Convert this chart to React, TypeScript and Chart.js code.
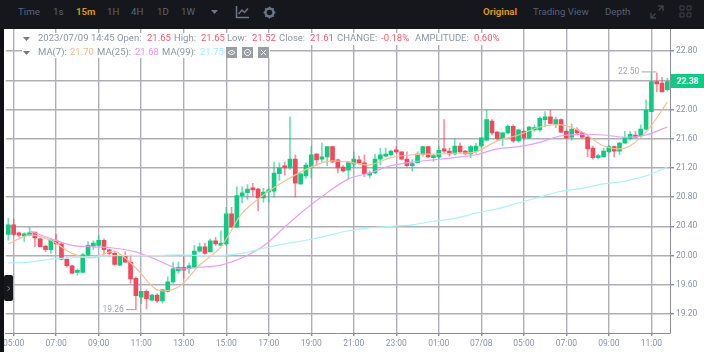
import React, { useEffect, useRef } from "react";
import { Chart, registerables } from "chart.js";

Chart.register(...registerables);

const opens = [20.29,20.42,20.31,20.27,20.28,20.32,20.23,20.13,20.08,20.20,20.16,19.95,19.86,19.77,19.77,20.01,20.13,20.14,20.21,20.08,20.03,19.87,19.99,19.91,19.69,19.43,19.51,19.39,19.46,19.38,19.51,19.64,19.79,19.84,19.82,19.84,20.06,20.12,20.05,20.20,20.14,20.16,20.57,20.39,20.82,20.86,20.91,20.91,20.79,20.87,20.88,21.12,21.21,21.20,21.32,20.98,21.09,21.21,21.39,21.32,21.35,21.49,21.31,21.21,21.17,21.25,21.31,21.27,21.10,21.13,21.32,21.36,21.38,21.43,21.42,21.32,21.23,21.27,21.38,21.49,21.34,21.35,21.46,21.43,21.39,21.50,21.43,21.39,21.43,21.50,21.58,21.84,21.69,21.60,21.68,21.77,21.57,21.70,21.61,21.72,21.72,21.86,21.90,21.80,21.86,21.70,21.62,21.72,21.68,21.62,21.47,21.34,21.35,21.42,21.49,21.43,21.54,21.60,21.65,21.64,21.73,21.97,22.38,22.36,22.27];
const highs = [20.51,20.50,20.32,20.31,20.39,20.32,20.24,20.14,20.24,20.29,20.17,19.97,19.87,19.82,20.03,20.19,20.20,20.27,20.23,20.09,20.05,20.01,20.05,20.01,19.71,19.51,19.53,19.47,19.48,19.54,19.71,19.91,19.91,19.98,19.90,20.14,20.17,20.17,20.23,20.25,20.34,20.66,20.66,20.94,20.94,20.97,20.99,20.92,20.92,20.92,21.28,21.27,21.28,21.90,21.38,21.13,21.27,21.49,21.40,21.54,21.49,21.50,21.32,21.23,21.29,21.42,21.36,21.38,21.16,21.39,21.47,21.47,21.44,21.49,21.42,21.42,21.31,21.42,21.50,21.50,21.39,21.50,21.86,21.47,21.60,21.54,21.44,21.51,21.54,21.61,21.99,21.86,21.70,21.69,21.79,21.79,21.73,21.72,21.77,21.79,21.90,21.97,21.99,21.90,21.87,21.72,21.80,21.75,21.69,21.64,21.50,21.39,21.47,21.51,21.50,21.55,21.70,21.70,21.70,21.79,22.13,22.50,22.50,22.44,22.43];
const lows = [20.21,20.27,20.25,20.19,20.27,20.12,20.12,20.05,20.03,20.16,19.94,19.84,19.75,19.73,19.77,19.99,20.08,20.12,20.02,19.99,19.87,19.86,19.91,19.62,19.26,19.34,19.27,19.38,19.36,19.35,19.50,19.62,19.76,19.69,19.76,19.83,20.05,20.02,20.05,20.14,20.14,20.14,20.39,20.39,20.72,20.77,20.82,20.61,20.73,20.73,20.80,21.03,21.10,21.18,20.80,20.97,21.06,21.06,21.23,21.28,21.23,21.27,21.13,21.14,21.05,21.20,21.25,21.08,21.06,21.12,21.24,21.35,21.36,21.40,21.31,21.21,21.16,21.27,21.36,21.34,21.29,21.32,21.40,21.36,21.38,21.40,21.38,21.34,21.40,21.47,21.57,21.65,21.58,21.50,21.66,21.55,21.55,21.58,21.60,21.70,21.70,21.76,21.81,21.75,21.68,21.60,21.58,21.65,21.61,21.35,21.32,21.32,21.35,21.40,21.35,21.38,21.54,21.58,21.62,21.62,21.72,21.97,22.24,22.24,22.25];
const closes = [20.42,20.29,20.28,20.29,20.31,20.24,20.12,20.08,20.21,20.16,19.95,19.86,19.76,19.79,20.01,20.14,20.17,20.21,20.08,20.03,19.88,19.99,19.91,19.68,19.45,19.51,19.41,19.46,19.38,19.53,19.64,19.82,19.84,19.80,19.86,20.06,20.12,20.03,20.20,20.16,20.17,20.57,20.39,20.82,20.86,20.91,20.90,20.79,20.87,20.90,21.13,21.20,21.20,21.32,20.99,21.12,21.24,21.38,21.31,21.35,21.49,21.28,21.20,21.16,21.28,21.32,21.27,21.12,21.13,21.32,21.38,21.39,21.43,21.42,21.32,21.23,21.24,21.39,21.49,21.35,21.35,21.44,21.43,21.39,21.50,21.42,21.39,21.49,21.50,21.61,21.86,21.68,21.60,21.68,21.77,21.57,21.72,21.61,21.76,21.75,21.88,21.90,21.81,21.86,21.69,21.61,21.73,21.68,21.62,21.46,21.34,21.36,21.43,21.49,21.43,21.54,21.61,21.66,21.62,21.73,21.99,22.38,22.35,22.24,22.38];

// Moving averages at every fourth candle.
const maEvery = 4;
const ma7 = [20.16,20.28,20.21,20.03,19.97,20.06,19.83,19.53,19.57,19.87,20.12,20.58,20.83,21.02,21.18,21.29,21.28,21.24,21.34,21.38,21.39,21.40,21.42,21.57,21.65,21.76,21.79,21.69,21.50,21.47,21.69,22.10];
const ma25 = [null,20.34,20.23,20.14,20.12,20.10,20.05,19.94,19.82,19.84,19.87,19.97,20.13,20.39,20.64,20.86,21.05,21.13,21.23,21.28,21.31,21.34,21.38,21.46,21.49,21.55,21.64,21.66,21.65,21.62,21.65,21.76];
const ma99 = [19.90,19.91,19.95,19.97,19.99,20.00,20.00,20.00,20.01,20.00,20.00,20.03,20.10,20.16,20.21,20.27,20.34,20.38,20.40,20.42,20.47,20.51,20.58,20.64,20.72,20.80,20.88,20.92,20.98,21.02,21.09,21.21];

const xTickLabels = ["05:00","07:00","09:00","11:00","13:00","15:00","17:00","19:00","21:00","23:00","01:00","07/08","05:00","07:00","09:00","11:00"];
const yTicks = [19.2,19.6,20.0,20.4,20.8,21.2,21.6,22.0,22.4,22.8];
const lastPrice = 22.38;

const GREEN = "#0ecb81";
const RED = "#f6465d";
const GREEN_WICK = "rgba(14,203,129,0.6)";
const RED_WICK = "rgba(246,70,93,0.6)";
const GRID = "#aeb0b5";
const AXIS = "#8a8d93";
const TEXT = "#8c95a2";
const VALUE_RED = "#f7566b";

const categories = opens.map((_, i) => ((i - 1) % 8 === 0 ? xTickLabels[(i - 1) / 8] ?? "" : ""));
const sparse = (vals: (number | null)[]) => opens.map((_, i) => (i % maEvery === 0 ? vals[i / maEvery] : null));
const colors = opens.map((o, i) => (closes[i] >= o ? GREEN : RED));
const wickColors = opens.map((o, i) => (closes[i] >= o ? GREEN_WICK : RED_WICK));

const extremesPlugin = {
  id: "extremes",
  afterDatasetsDraw(chart: any) {
    const { ctx, scales } = chart;
    const maxV = Math.max(...highs);
    const minV = Math.min(...lows);
    const hi = highs.indexOf(maxV);
    const lo = lows.indexOf(minV);
    ctx.save();
    ctx.font = "8.5px Roboto";
    ctx.fillStyle = "#a4a8ae";
    ctx.strokeStyle = "#a4a8ae";
    ctx.lineWidth = 1;
    ctx.textBaseline = "middle";
    ctx.textAlign = "right";
    const draw = (idx: number, v: number, dy: number, reach: number) => {
      const x = scales.x.getPixelForValue(idx);
      const y = scales.y.getPixelForValue(v) + dy;
      ctx.beginPath();
      ctx.moveTo(x + reach, y);
      ctx.lineTo(x - 10, y);
      ctx.stroke();
      ctx.fillText(v.toFixed(2), x - 12, y);
    };
    draw(hi, maxV, -1, 5);
    draw(lo, minV, 0, 0);
    ctx.restore();
  },
};

const Txt = ({ x, y, c, b, s, children }: any) => (
  <span style={{ position: "absolute", left: x, top: y, lineHeight: "12px", height: 12, fontSize: s ?? 9.5, color: c ?? TEXT, fontWeight: b ? 700 : 400, whiteSpace: "nowrap" }}>{children}</span>
);

const Tri = ({ x, y, c }: any) => (
  <svg style={{ position: "absolute", left: x, top: y }} width="7" height="4"><path d="M0 0H7L3.5 4Z" fill={c} /></svg>
);

const Badge = ({ x, d }: any) => (
  <svg style={{ position: "absolute", left: x, top: 46.5 }} width="11" height="11">
    <rect width="11" height="11" fill="#9a9da3" />
    <path d={d} stroke="#fff" strokeWidth="1" fill="none" />
  </svg>
);

export default function App() {
  const ref = useRef<HTMLCanvasElement>(null);
  useEffect(() => {
    const chart = new Chart(ref.current!, {
      type: "bar",
      data: {
        labels: categories,
        datasets: [
          { type: "line", data: sparse(ma99), borderColor: "#aef1f8", borderWidth: 1.2, pointRadius: 0, spanGaps: true, tension: 0.3, order: 1 },
          { type: "line", data: sparse(ma25), borderColor: "#e9a0f3", borderWidth: 1.2, pointRadius: 0, spanGaps: true, tension: 0.3, order: 1 },
          { type: "line", data: sparse(ma7), borderColor: "#f7c096", borderWidth: 1.2, pointRadius: 0, spanGaps: true, tension: 0.3, order: 1 },
          { type: "bar", data: opens.map((o, i) => [o, closes[i]]), backgroundColor: colors, barThickness: 4, minBarLength: 2, grouped: false, order: 2 },
          { type: "bar", data: opens.map((_, i) => [lows[i], highs[i]]), backgroundColor: wickColors, barThickness: 1, grouped: false, order: 3 },
        ] as any,
      },
      options: {
        animation: false,
        responsive: false,
        events: [],
        layout: { padding: { left: 4.67, top: 29, right: 0, bottom: 0 } },
        plugins: { legend: { display: false }, tooltip: { enabled: false }, title: { display: false } },
        scales: {
          x: {
            type: "category",
            offset: true,
            grid: { offset: false, color: GRID, lineWidth: 1.4, tickLength: 3, tickColor: AXIS },
            border: { color: AXIS, width: 1 },
            ticks: { autoSkip: false, maxRotation: 0, minRotation: 0, color: TEXT, font: { family: "Roboto", size: 8.5 }, padding: 3 },
            afterBuildTicks: (s: any) => { s.ticks = s.ticks.filter((t: any) => categories[t.value] !== ""); },
            afterFit: (s: any) => { s.height = 19; },
          },
          y: {
            type: "linear",
            position: "right",
            min: 18.94,
            max: 23.101,
            grid: { color: GRID, lineWidth: 1.4, tickLength: 4, tickColor: AXIS },
            border: { color: AXIS, width: 1 },
            ticks: { color: TEXT, font: { family: "Roboto", size: 8.5 }, padding: 2, callback: (v: any) => Number(v).toFixed(2) },
            afterBuildTicks: (s: any) => { s.ticks = yTicks.map((value) => ({ value })); },
            afterFit: (s: any) => { s.width = 34; },
          },
        },
      } as any,
      plugins: [extremesPlugin],
    });
    return () => chart.destroy();
  }, []);

  return (
    <div style={{ position: "fixed", left: 0, top: 0, width: 704, height: 352, overflow: "hidden", background: "#fff", fontFamily: "Roboto, sans-serif", filter: "blur(0.5px)" }}>
      <canvas ref={ref} width={704} height={352} style={{ position: "absolute", left: 0, top: 0, width: 704, height: 352 }} />

      <div style={{ position: "absolute", left: 0, top: 0, width: 4, height: 352, background: "#101114" }} />
      <div style={{ position: "absolute", left: 0, top: 0, width: 704, height: 29, background: "#15171c" }} />
      <div style={{ position: "absolute", left: 4, top: 275, width: 9, height: 26, background: "#15171c", borderRadius: 2 }}>
        <svg style={{ position: "absolute", left: 3, top: 11 }} width="4" height="5"><path d="M0.5 0.5L3 2.5L0.5 4.5" stroke="#7a808a" fill="none" /></svg>
      </div>

      {/* top bar */}
      <Txt x={18} y={6} s={9.7} c="#5c6677">Time</Txt>
      <Txt x={53} y={6} s={9.7} c="#5c6677">1s</Txt>
      <Txt x={76} y={6} s={9.7} c="#d89615" b>15m</Txt>
      <Txt x={107} y={6} s={9.7} c="#5c6677">1H</Txt>
      <Txt x={131} y={6} s={9.7} c="#5c6677">4H</Txt>
      <Txt x={157} y={6} s={9.7} c="#5c6677">1D</Txt>
      <Txt x={181} y={6} s={9.7} c="#5c6677">1W</Txt>
      <Tri x={211} y={10} c="#6c7686" />
      <svg style={{ position: "absolute", left: 235, top: 5 }} width="15" height="14">
        <path d="M1.5 1V12.5H14M3.5 9L7 5L9.5 7.5L13 3.5" stroke="#6c7686" strokeWidth="1.5" fill="none" />
      </svg>
      <svg style={{ position: "absolute", left: 263, top: 6 }} width="13" height="13">
        <circle cx="6.5" cy="6.5" r="4" stroke="#6c7686" strokeWidth="2.4" fill="none" />
        <path d="M6.5 0.5V12.5M0.5 6.5H12.5M2.3 2.3L10.7 10.7M10.7 2.3L2.3 10.7" stroke="#6c7686" strokeWidth="1.4" strokeDasharray="2 8.5" />
      </svg>
      <Txt x={483} y={6} s={9.7} c="#d89615" b>Original</Txt>
      <Txt x={533} y={6} s={9.7} c="#56607a">Trading View</Txt>
      <Txt x={605} y={6} s={9.7} c="#56607a">Depth</Txt>
      <svg style={{ position: "absolute", left: 650, top: 5 }} width="14" height="14">
        <path d="M8 1H13V6M13 1L8.5 5.5M6 13H1V8M1 13L5.5 8.5" stroke="#3d434e" strokeWidth="1.4" fill="none" />
      </svg>
      <svg style={{ position: "absolute", left: 679, top: 5 }} width="13" height="13">
        <path d="M1 1H5V5H1ZM8 1H12V5H8ZM1 8H5V12H1ZM8 8H12V12H8Z" stroke="#3d434e" fill="none" />
      </svg>

      {/* legend rows */}
      <div style={{ position: "absolute", left: 22, top: 33, width: 478, height: 12, background: "#fff" }} />
      <div style={{ position: "absolute", left: 22, top: 45, width: 248, height: 13, background: "#fff" }} />
      <Tri x={23} y={36.5} c="#767b84" />
      <Tri x={23} y={50.5} c="#767b84" />
      <Txt x={38} y={32}>2023/07/09 14:45</Txt>
      <Txt x={117} y={32}>Open:</Txt><Txt x={147} y={32} c={VALUE_RED}>21.65</Txt>
      <Txt x={174} y={32}>High:</Txt><Txt x={201} y={32} c={VALUE_RED}>21.65</Txt>
      <Txt x={227} y={32}>Low:</Txt><Txt x={252} y={32} c={VALUE_RED}>21.52</Txt>
      <Txt x={279} y={32}>Close:</Txt><Txt x={310} y={32} c={VALUE_RED}>21.61</Txt>
      <Txt x={337} y={32}>CHANGE:</Txt><Txt x={381} y={32} c={VALUE_RED}>-0.18%</Txt>
      <Txt x={415} y={32}>AMPLITUDE:</Txt><Txt x={474} y={32} c={VALUE_RED}>0.60%</Txt>
      <Txt x={38} y={46}>MA(7):</Txt><Txt x={70} y={46} c="#f8b78e">21.70</Txt>
      <Txt x={97} y={46}>MA(25):</Txt><Txt x={135} y={46} c="#f28ef5">21.68</Txt>
      <Txt x={162} y={46}>MA(99):</Txt><Txt x={200} y={46} c="#9ceefa">21.75</Txt>
      <Badge x={226} d="M2 5.5Q5.5 1.5 9 5.5Q5.5 9.5 2 5.5ZM5 5.5H6" />
      <Badge x={242} d="M5.5 2.5A3 3 0 1 0 5.6 2.5ZM4.5 5.5H6.5" />
      <Badge x={258} d="M3 3L8 8M8 3L3 8" />

      {/* last price tag */}
      <div style={{ position: "absolute", left: 671, top: 74, width: 33, height: 14, background: GREEN, color: "#fff", fontSize: 8.5, fontWeight: 700, lineHeight: "14px", textAlign: "center" }}>{lastPrice.toFixed(2)}</div>
    </div>
  );
}
